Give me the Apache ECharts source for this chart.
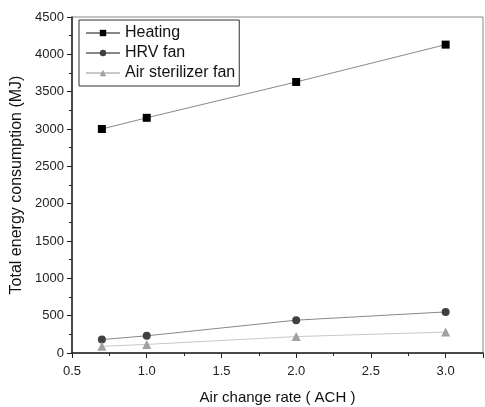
<!DOCTYPE html>
<html><head><meta charset="utf-8">
<script src="https://cdn.jsdelivr.net/npm/echarts@6/dist/echarts.min.js"></script>
<style>html,body{margin:0;padding:0;background:#fff}#c{width:485px;height:407px}</style>
</head><body><div id="c"></div>
<script>
const xValues = [0.7, 1.0, 2.0, 3.0];
const heating = [3000, 3150, 3630, 4130];
const hrvFan = [180, 230, 440, 550];
const sterilizerFan = [90, 115, 220, 280];
const seriesNames = ['Heating', 'HRV fan', 'Air sterilizer fan'];
const xTitle = 'Air change rate ( ACH )';
const yTitle = 'Total energy consumption (MJ)';

const pairs = arr => xValues.map((x, i) => [x, arr[i]]);
const font = 'Liberation Sans, Arial, sans-serif';
const chart = echarts.init(document.getElementById('c'));
chart.setOption({
  animation: false,
  grid: {left: 72, right: 2, top: 17, bottom: 54, show: true, borderColor: '#888', borderWidth: 1,
    containLabel: false, outerBoundsMode: 'none'},
  legend: {
    left: 79, top: 20, orient: 'vertical', itemGap: 2, itemWidth: 34, itemHeight: 8,
    padding: [4, 4, 4, 6], borderColor: '#333', borderWidth: 1,
    textStyle: {fontFamily: font, fontSize: 16, color: '#111', lineHeight: 18},
    data: seriesNames
  },
  xAxis: {
    type: 'value', min: 0.5, max: 3.25, interval: 0.5,
    name: xTitle, nameLocation: 'middle', nameGap: 37,
    nameTextStyle: {fontFamily: font, fontSize: 15, color: '#111'},
    axisLine: {lineStyle: {color: '#222', width: 1.5}},
    axisTick: {show: true, length: 5, lineStyle: {color: '#222'}},
    minorTick: {show: true, splitNumber: 2, length: 3, lineStyle: {color: '#222'}},
    splitLine: {show: false},
    axisLabel: {fontFamily: font, fontSize: 13, color: '#222', showMaxLabel: false, margin: 12,
      formatter: v => (Math.abs(v * 2 - Math.round(v * 2)) < 1e-6 ? v.toFixed(1) : '')}
  },
  yAxis: {
    type: 'value', min: 0, max: 4500, interval: 500,
    name: yTitle, nameLocation: 'middle', nameGap: 44,
    nameTextStyle: {fontFamily: font, fontSize: 16, color: '#111'},
    axisLine: {show: true, lineStyle: {color: '#222', width: 1.5}},
    axisTick: {show: true, length: 5, lineStyle: {color: '#222'}},
    minorTick: {show: true, splitNumber: 2, length: 3, lineStyle: {color: '#222'}},
    splitLine: {show: false},
    axisLabel: {fontFamily: font, fontSize: 13, color: '#222', formatter: v => String(v)}
  },
  series: [
    {name: seriesNames[0], type: 'line', data: pairs(heating), symbol: 'rect', symbolSize: 8,
      itemStyle: {color: '#000'}, lineStyle: {color: '#888', width: 1}},
    {name: seriesNames[1], type: 'line', data: pairs(hrvFan), symbol: 'circle', symbolSize: 8,
      itemStyle: {color: '#404040'}, lineStyle: {color: '#888', width: 1}},
    {name: seriesNames[2], type: 'line', data: pairs(sterilizerFan), symbol: 'triangle', symbolSize: 9,
      itemStyle: {color: '#a0a0a0'}, lineStyle: {color: '#c8c8c8', width: 1}}
  ]
});
</script></body></html>
